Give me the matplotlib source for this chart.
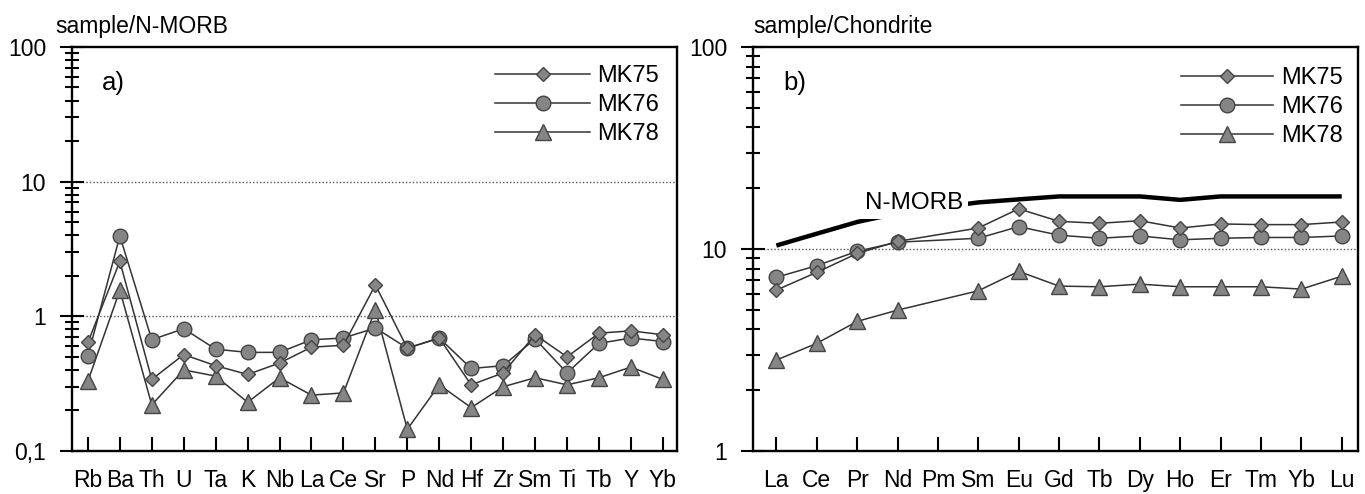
## spider diagrams: N-MORB and chondrite normalised
import matplotlib
matplotlib.use('Agg')
import matplotlib.pyplot as plt
from matplotlib.ticker import FixedLocator, LogLocator, NullFormatter
import numpy as np

plt.rcParams['font.family'] = ['Liberation Sans', 'DejaVu Sans']

## data - panel a)
elem_a = ['Rb', 'Ba', 'Th', 'U', 'Ta', 'K', 'Nb', 'La', 'Ce', 'Sr',
          'P', 'Nd', 'Hf', 'Zr', 'Sm', 'Ti', 'Tb', 'Y', 'Yb']
mk75_a = [0.64, 2.56, 0.34, 0.52, 0.43, 0.37, 0.45, 0.59, 0.61, 1.71,
          0.58, 0.69, 0.31, 0.38, 0.73, 0.50, 0.75, 0.78, 0.73]
mk76_a = [0.51, 3.95, 0.67, 0.81, 0.57, 0.54, 0.54, 0.67, 0.69, 0.82,
          0.58, 0.69, 0.41, 0.43, 0.68, 0.38, 0.63, 0.69, 0.65]
mk78_a = [0.33, 1.56, 0.22, 0.40, 0.36, 0.23, 0.35, 0.26, 0.27, 1.12,
          0.145, 0.31, 0.21, 0.30, 0.35, 0.31, 0.35, 0.42, 0.34]

## data - panel b)
elem_b = ['La', 'Ce', 'Pr', 'Nd', 'Pm', 'Sm', 'Eu', 'Gd', 'Tb', 'Dy',
          'Ho', 'Er', 'Tm', 'Yb', 'Lu']
mk75_b = [6.26, 7.66, 9.5, 10.9, np.nan, 12.7, 15.8, 13.7, 13.4, 13.8,
          12.7, 13.3, 13.2, 13.2, 13.6]
mk76_b = [7.24, 8.27, 9.74, 10.8, np.nan, 11.3, 12.9, 11.7, 11.3, 11.6,
          11.1, 11.3, 11.4, 11.4, 11.6]
mk78_b = [2.82, 3.41, 4.38, 4.98, np.nan, 6.21, 7.75, 6.55, 6.5, 6.7,
          6.5, 6.5, 6.5, 6.33, 7.33]
nmorb_b = [10.4, 11.9, 13.6, 15.0, 16.0, 17.0, 17.6, 18.2, 18.2, 18.2,
           17.5, 18.2, 18.2, 18.2, 18.2]

samples = ['MK75', 'MK76', 'MK78']
markers = ['D', 'o', '^']
msizes = [7.5, 10.5, 11]
zord = [5, 4, 3]

FS = 16.5
line_c = '#333333'
face_c = '#858585'
edge_c = '#444444'

fig = plt.figure(figsize=(13.65, 4.94), dpi=100)
ax1 = fig.add_axes([0.0527, 0.087, 0.4432, 0.818])
ax2 = fig.add_axes([0.5516, 0.087, 0.4432, 0.818])


def style_axis(ax, ylo, labels, ylab, panel):
    ax.set_yscale('log')
    ax.set_ylim(ylo, 100)
    ticks = [t for t in [0.1, 1, 10, 100] if t >= ylo]
    ax.yaxis.set_major_locator(FixedLocator(ticks))
    ax.yaxis.set_minor_locator(LogLocator(base=10, subs=range(2, 10)))
    ax.yaxis.set_minor_formatter(NullFormatter())
    ax.set_yticklabels(labels)
    ax.tick_params(axis='y', which='major', direction='inout', length=17,
                   width=1.5, labelsize=FS, pad=10, right=False)
    ax.tick_params(axis='y', which='minor', direction='inout', length=10,
                   width=1.5, right=False)
    ax.tick_params(axis='x', which='both', direction='in', length=10,
                   width=1.5, labelsize=FS, pad=13, top=False)
    for s in ax.spines.values():
        s.set_linewidth(1.7)
    ax.text(-0.028 if panel == 'a)' else 0.0, 1.05, ylab, transform=ax.transAxes,
            fontsize=FS, ha='left', va='center')
    ax.text(0.05, 0.91, panel, transform=ax.transAxes, fontsize=FS + 2,
            ha='left', va='center')


## panel a
xa = np.arange(len(elem_a))
for i, (name, vals) in enumerate(zip(samples, [mk75_a, mk76_a, mk78_a])):
    ax1.plot(xa, vals, color=line_c, lw=1.1, marker=markers[i], ms=msizes[i],
             mfc=face_c, mec=edge_c, mew=1.0, label=name, zorder=zord[i])
for yy in [1, 10]:
    ax1.axhline(yy, color='#555555', lw=1, ls=(0, (1, 1.5)), zorder=1)
ax1.set_xlim(-0.5, 18.44)
ax1.set_xticks(xa)
ax1.set_xticklabels(elem_a)
style_axis(ax1, 0.1, ['0,1', '1', '10', '100'], 'sample/N-MORB', 'a)')
ax1.legend(loc='upper right', bbox_to_anchor=(0.97, 0.955), frameon=False,
           fontsize=FS + 0.5, handlelength=4.0, handletextpad=0.3, labelspacing=0.3,
           borderpad=0, borderaxespad=0, numpoints=1)

## panel b
xb = np.arange(len(elem_b))
for i, (name, vals) in enumerate(zip(samples, [mk75_b, mk76_b, mk78_b])):
    v = np.array(vals, dtype=float)
    ok = ~np.isnan(v)
    ax2.plot(xb[ok], v[ok], color=line_c, lw=1.1, marker=markers[i], ms=msizes[i],
             mfc=face_c, mec=edge_c, mew=1.0, label=name, zorder=zord[i])
ax2.plot(xb, nmorb_b, color='black', lw=3.2, zorder=2, solid_capstyle='butt')
ax2.text(3.42, 16.8, 'N-MORB', fontsize=FS + 1, ha='center', va='center', zorder=6,
         bbox=dict(facecolor='white', edgecolor='none', pad=3.5))
ax2.axhline(10, color='#555555', lw=1, ls=(0, (1, 1.5)), zorder=1)
ax2.set_xlim(-0.58, 14.4)
ax2.set_xticks(xb)
ax2.set_xticklabels(elem_b)
style_axis(ax2, 1, ['1', '10', '100'], 'sample/Chondrite', 'b)')
ax2.legend(loc='upper right', bbox_to_anchor=(0.975, 0.95), frameon=False,
           fontsize=FS + 0.5, handlelength=3.9, handletextpad=0.35, labelspacing=0.3,
           borderpad=0, borderaxespad=0, numpoints=1)

plt.savefig('out.png', dpi=100)
